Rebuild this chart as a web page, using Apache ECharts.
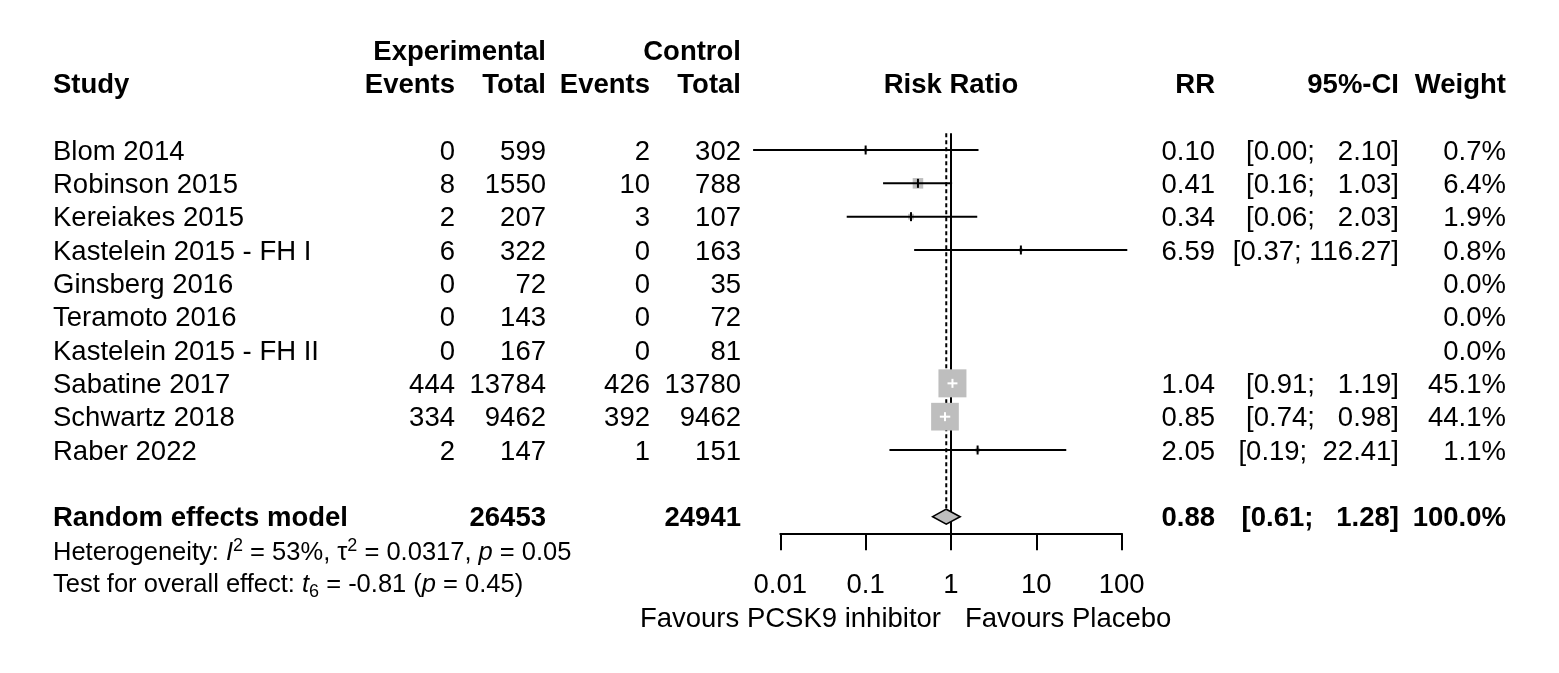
<!DOCTYPE html>
<html><head><meta charset="utf-8">
<script src="https://cdn.jsdelivr.net/npm/echarts@6/dist/echarts.min.js"></script>
<style>html,body{margin:0;padding:0;background:#fff}#c{width:1559px;height:673px}</style>
</head><body><div id="c"></div>
<script>
// ---------------- data ----------------
const studies = ["Blom 2014","Robinson 2015","Kereiakes 2015","Kastelein 2015 - FH I","Ginsberg 2016","Teramoto 2016","Kastelein 2015 - FH II","Sabatine 2017","Schwartz 2018","Raber 2022"];
const expEvents  = [0, 8, 2, 6, 0, 0, 0, 444, 334, 2];
const expTotal   = [599, 1550, 207, 322, 72, 143, 167, 13784, 9462, 147];
const ctrlEvents = [2, 10, 3, 0, 0, 0, 0, 426, 392, 1];
const ctrlTotal  = [302, 788, 107, 163, 35, 72, 81, 13780, 9462, 151];
const riskRatio  = [0.10, 0.41, 0.34, 6.59, null, null, null, 1.04, 0.85, 2.05];
const ciLower    = [0.0048, 0.16, 0.06, 0.37, null, null, null, 0.91, 0.74, 0.19];
const ciUpper    = [2.10, 1.03, 2.03, 116.27, null, null, null, 1.19, 0.98, 22.41];
const weightPct  = [0.7, 6.4, 1.9, 0.8, 0.0, 0.0, 0.0, 45.1, 44.1, 1.1];
const pooledLabel = "Random effects model";
const pooledRR = 0.88, pooledLower = 0.61, pooledUpper = 1.28;
const pooledExpTotal = 26453, pooledCtrlTotal = 24941, pooledWeight = 100.0;
const xTicks = [0.01, 0.1, 1, 10, 100];
const labelLeft = "Favours PCSK9 inhibitor", labelRight = "Favours Placebo";
const hetRich  = "Heterogeneity: {it|I}{sup|2} = 53%, \u03c4{sup|2} = 0.0317, {it|p} = 0.05";
const testRich = "Test for overall effect: {it|t}{sub|6} = -0.81 ({it|p} = 0.45)";

// ---------------- layout / style ----------------
const FONT = '"Liberation Sans", Arial, Helvetica, sans-serif';
const FS = 27.5, FS_HET = 25.5;
const TEXT_DY = 2;
const COL = {study: 53, expEv: 455, expTot: 546, ctrlEv: 650, ctrlTot: 741, rr: 1215, ci: 1399, w: 1506};
const SQ_MAX = 28, SQ_FILL = '#bebebe', TICK = 9, DH = 7.5;
const maxWeight = Math.max(...weightPct);
const POOLED_ROW = 12;

function fmtCI(lo, hi) {
  return '[' + lo.toFixed(2) + '; ' + hi.toFixed(2).padStart(6, ' ') + ']';
}

const studyData = [];
riskRatio.forEach((v, i) => { if (v != null) studyData.push([v, ciLower[i], ciUpper[i], i + 1, weightPct[i]]); });

function renderRef(params, api) {
  const t = api.coord([1, 0.5]), b = api.coord([1, 12.5]);
  const p0 = api.coord([pooledRR, 0.5]), p1 = api.coord([pooledRR, POOLED_ROW]);
  return {type: 'group', children: [
    {type: 'line', shape: {x1: t[0], y1: t[1], x2: b[0], y2: b[1]}, style: {stroke: '#000', lineWidth: 2}},
    {type: 'line', shape: {x1: p0[0], y1: p0[1], x2: p1[0], y2: p1[1] - DH}, style: {stroke: '#000', lineWidth: 2, lineDash: [4, 3]}}
  ]};
}

function renderStudy(params, api) {
  const rr = api.value(0), lo = api.value(1), hi = api.value(2), row = api.value(3), w = api.value(4);
  const c = api.coord([rr, row]), l = api.coord([lo, row]), h = api.coord([hi, row]);
  const size = SQ_MAX * Math.sqrt(w / maxWeight);
  const inside = (h[0] - l[0]) <= size;
  const col = inside ? '#fff' : '#000';
  return {type: 'group', children: [
    {type: 'rect', shape: {x: c[0] - size / 2, y: c[1] - size / 2, width: size, height: size}, style: {fill: SQ_FILL}},
    {type: 'line', shape: {x1: l[0], y1: c[1], x2: h[0], y2: c[1]}, style: {stroke: col, lineWidth: 2}},
    {type: 'line', shape: {x1: c[0], y1: c[1] - TICK / 2, x2: c[0], y2: c[1] + TICK / 2}, style: {stroke: col, lineWidth: 2}}
  ]};
}

function renderDiamond(params, api) {
  const rr = api.value(0), lo = api.value(1), hi = api.value(2), row = api.value(3);
  const c = api.coord([rr, row]), l = api.coord([lo, row]), h = api.coord([hi, row]);
  return {type: 'polygon', shape: {points: [[l[0], c[1]], [c[0], c[1] - DH], [h[0], c[1]], [c[0], c[1] + DH]]},
    style: {fill: SQ_FILL, stroke: '#000', lineWidth: 1.6}};
}

function renderTable(params, api) {
  const Y = r => api.coord([1, r])[1] + TEXT_DY;
  const X1 = api.coord([1, 0])[0];
  const kids = [];
  const T = (x, r, text, align, bold, dy) => kids.push({type: 'text', x: x, y: Y(r) + (dy || 0), style: {
    text: String(text), fill: '#000', fontFamily: FONT, fontSize: FS, fontWeight: bold ? 'bold' : 'normal',
    align: align, verticalAlign: 'middle'}});
  T(COL.expTot, -2, 'Experimental', 'right', true);
  T(COL.ctrlTot, -2, 'Control', 'right', true);
  T(COL.study, -1, 'Study', 'left', true);
  T(COL.expEv, -1, 'Events', 'right', true);
  T(COL.expTot, -1, 'Total', 'right', true);
  T(COL.ctrlEv, -1, 'Events', 'right', true);
  T(COL.ctrlTot, -1, 'Total', 'right', true);
  T(X1, -1, 'Risk Ratio', 'center', true);
  T(COL.rr, -1, 'RR', 'right', true);
  T(COL.ci, -1, '95%-CI', 'right', true);
  T(COL.w, -1, 'Weight', 'right', true);
  studies.forEach((s, i) => {
    const r = i + 1;
    T(COL.study, r, s, 'left');
    T(COL.expEv, r, expEvents[i], 'right');
    T(COL.expTot, r, expTotal[i], 'right');
    T(COL.ctrlEv, r, ctrlEvents[i], 'right');
    T(COL.ctrlTot, r, ctrlTotal[i], 'right');
    if (riskRatio[i] != null) {
      T(COL.rr, r, riskRatio[i].toFixed(2), 'right');
      T(COL.ci, r, fmtCI(ciLower[i], ciUpper[i]), 'right');
    }
    T(COL.w, r, weightPct[i].toFixed(1) + '%', 'right');
  });
  T(COL.study, POOLED_ROW, pooledLabel, 'left', true);
  T(COL.expTot, POOLED_ROW, pooledExpTotal, 'right', true);
  T(COL.ctrlTot, POOLED_ROW, pooledCtrlTotal, 'right', true);
  T(COL.rr, POOLED_ROW, pooledRR.toFixed(2), 'right', true);
  T(COL.ci, POOLED_ROW, fmtCI(pooledLower, pooledUpper), 'right', true);
  T(COL.w, POOLED_ROW, pooledWeight.toFixed(1) + '%', 'right', true);
  const rich = {
    it: {fontStyle: 'italic', fontFamily: FONT, fontSize: FS_HET, lineHeight: 32},
    sup: {fontFamily: FONT, fontSize: 18, lineHeight: 21, verticalAlign: 'top'},
    sub: {fontFamily: FONT, fontSize: 18, lineHeight: 19, verticalAlign: 'bottom'}
  };
  [[13, hetRich, 1], [14, testRich, 0]].forEach(([r, txt, dy]) => kids.push({type: 'text', x: COL.study, y: Y(r) + dy, style: {
    text: txt, rich: rich, fill: '#000', fontFamily: FONT, fontSize: FS_HET, lineHeight: 32,
    align: 'left', verticalAlign: 'middle'}}));
  T(X1 - 10, 15, labelLeft, 'right', false, 1);
  T(X1 + 14, 15, labelRight, 'left', false, 1);
  return {type: 'group', children: kids};
}

const chart = echarts.init(document.getElementById('c'), null, {renderer: 'canvas'});
chart.setOption({
  animation: false,
  backgroundColor: '#fff',
  grid: {left: 780.3, width: 341.4, top: 116.67, height: 416.67, containLabel: false},
  xAxis: {
    type: 'log', logBase: 10, min: xTicks[0], max: xTicks[xTicks.length - 1],
    axisLine: {show: true, onZero: false, lineStyle: {color: '#000', width: 2}},
    axisTick: {show: true, length: 17, lineStyle: {color: '#000', width: 2}},
    minorTick: {show: false}, splitLine: {show: false},
    axisLabel: {color: '#000', fontFamily: FONT, fontSize: FS, margin: 38,
      formatter: v => String(+(+v).toPrecision(6))}
  },
  yAxis: {type: 'value', inverse: true, min: 0, max: 12.5, show: false},
  series: [
    {type: 'custom', renderItem: renderRef, data: [[1, 0]], clip: false, silent: true, z: 1},
    {type: 'custom', renderItem: renderStudy, data: studyData, encode: {x: 0, y: 3}, clip: false, silent: true, z: 2},
    {type: 'custom', renderItem: renderDiamond, data: [[pooledRR, pooledLower, pooledUpper, POOLED_ROW]], encode: {x: 0, y: 3}, clip: false, silent: true, z: 3},
    {type: 'custom', renderItem: renderTable, data: [[1, 0]], clip: false, silent: true, z: 4}
  ]
});
</script></body></html>
